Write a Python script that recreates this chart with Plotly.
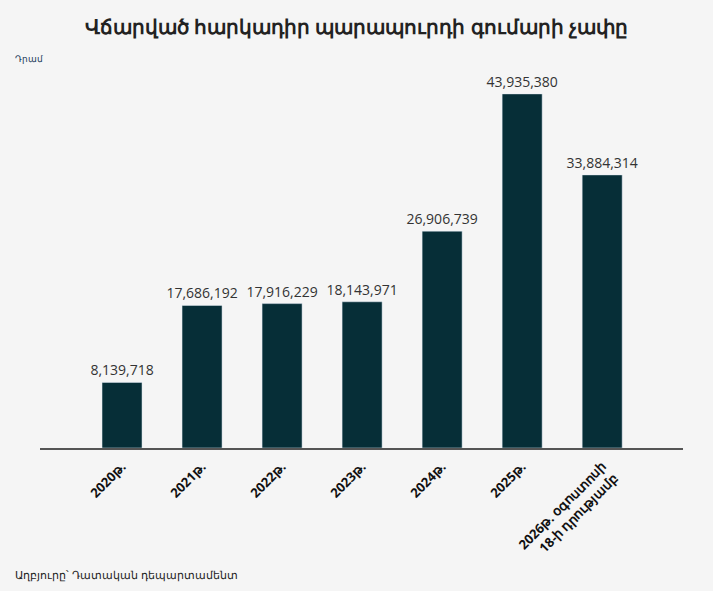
import plotly.graph_objects as go

categories = ["2020թ.", "2021թ.", "2022թ.", "2023թ.", "2024թ.", "2025թ.",
              "2026թ. օգոստոսի<br>18-ի դրությամբ"]
values = [8139718, 17686192, 17916229, 18143971, 26906739, 43935380, 33884314]
labels = [f"{v:,}" for v in values]

fig = go.Figure(go.Bar(
    x=list(range(len(categories))), y=values,
    marker_color="#062e37", width=0.5,
    text=labels, textposition="outside", cliponaxis=False,
    constraintext="none",
    textfont=dict(size=14, color="#333333", family="Open Sans"),
))

fig.update_layout(
    width=713, height=591,
    paper_bgcolor="#f5f5f5", plot_bgcolor="#f5f5f5",
    margin=dict(l=40, r=30, t=70, b=143),
    showlegend=False,
    title=dict(text="<b>Վճարված հարկադիր պարապուրդի գումարի չափը</b>",
               x=0.5, xanchor="center", y=0.955, yanchor="middle",
               font=dict(size=20, color="#222222", family="Noto Sans")),
    xaxis=dict(tickmode="array", tickvals=list(range(len(categories))),
               ticktext=[f"<b>{c}</b>" for c in categories],
               tickangle=-45, range=[-1.025, 7.01],
               showline=True, linecolor="#555555", linewidth=2,
               showgrid=False, zeroline=False, ticks="outside", ticklen=4,
               tickcolor="rgba(0,0,0,0)",
               tickfont=dict(size=13, color="#111111", family="Open Sans")),
    yaxis=dict(range=[0, 46.9e6], visible=False, showgrid=False),
    annotations=[
        dict(text="Դրամ", xref="paper", yref="paper", x=-0.042, y=1.03,
             xanchor="left", yanchor="middle", showarrow=False,
             font=dict(size=9, color="#1a3a5a", family="Noto Sans")),
        dict(text="Աղբյուրը՝ Դատական դեպարտամենտ", xref="paper", yref="paper",
             x=-0.042, y=-0.335, xanchor="left", yanchor="middle", showarrow=False,
             font=dict(size=11, color="#222222", family="Noto Sans")),
    ],
)

fig.write_html("out.html", config={"displayModeBar": False},
               post_script="document.body.style.margin='0';")
